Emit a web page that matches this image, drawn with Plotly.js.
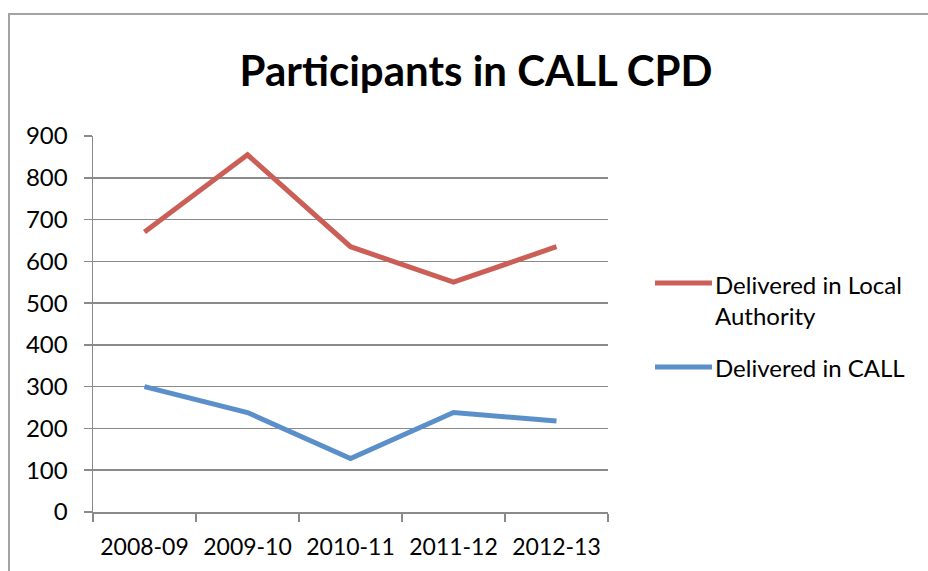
<!DOCTYPE html>
<html>
<head>
<meta charset="utf-8">
<script src="https://cdn.plot.ly/plotly-3.0.1.min.js"></script>
<style>
  html, body { margin: 0; padding: 0; width: 928px; height: 571px; overflow: hidden; background: #fff; }
  #frame { position: absolute; left: 8px; top: 13px; width: 1100px; height: 800px;
           border: 2px solid #a3a3a3; box-sizing: border-box; }
  #chart { position: absolute; left: 0; top: 0; width: 928px; height: 571px; }
</style>
</head>
<body>
<div id="frame"></div>
<div id="chart"></div>
<script>
// Participants per year, by where the CPD was delivered
const years = ['2008-09', '2009-10', '2010-11', '2011-12', '2012-13'];
const localAuthority = [670, 855, 635, 550, 635];
const callCentre = [300, 238, 128, 238, 218];
const seriesNames = ['Delivered in Local<br>Authority', 'Delivered in CALL'];
const seriesColors = ['#CB5F57', '#5B8FCA'];
const yTicks = [0, 100, 200, 300, 400, 500, 600, 700, 800, 900];

const font = 'Lato, "Open Sans", "DejaVu Sans", sans-serif';
const gridColor = '#8a8a8a';
const labelSize = 24;

const traces = [
  { x: years, y: localAuthority, name: seriesNames[0], type: 'scatter', mode: 'lines',
    line: { color: seriesColors[0], width: 5 }, showlegend: false },
  { x: years, y: callCentre, name: seriesNames[1], type: 'scatter', mode: 'lines',
    line: { color: seriesColors[1], width: 5 }, showlegend: false }
];

// Legend drawn as line samples plus labels to the right of the plot
const legendRows = [0.565, 0.3856];
const legendLineY = [0.609, 0.3856];
const shapes = legendLineY.map((y, i) => ({
  type: 'line', xref: 'paper', yref: 'paper',
  x0: 1.0913, x1: 1.2019, y0: y, y1: y,
  line: { color: seriesColors[i], width: 5 }
}));
const annotations = legendRows.map((y, i) => ({
  xref: 'paper', yref: 'paper', x: 1.203, y: y,
  xanchor: 'left', yanchor: 'middle', align: 'left',
  text: seriesNames[i], showarrow: false,
  font: { family: font, size: labelSize, color: '#000' }
}));

const layout = {
  width: 928, height: 571,
  margin: { l: 93, r: 320, t: 136, b: 59 },
  paper_bgcolor: 'rgba(0,0,0,0)',
  plot_bgcolor: 'rgba(0,0,0,0)',
  title: {
    text: '<b>Participants in CALL CPD</b>',
    font: { family: font, size: 42, color: '#000' },
    xref: 'container', x: 0.513, xanchor: 'center',
    yref: 'container', y: 0.875, yanchor: 'middle'
  },
  xaxis: {
    type: 'category', range: [-0.5, 4.5],
    tickson: 'boundaries', ticks: 'outside', ticklen: 8, tickwidth: 1.5, tickcolor: gridColor,
    showgrid: false, showline: true, linecolor: gridColor, linewidth: 1.5,
    ticklabelstandoff: 14,
    tickfont: { family: font, size: 23, color: '#000' },
    fixedrange: true
  },
  yaxis: {
    range: [0, 900], tickvals: yTicks, ticktext: yTicks.map(String),
    ticks: 'outside', ticklen: 8, tickwidth: 1.5, tickcolor: gridColor,
    showgrid: true, gridcolor: gridColor, gridwidth: 1.5,
    showline: true, linecolor: gridColor, linewidth: 1.5,
    zeroline: false, ticklabelstandoff: 11,
    tickfont: { family: font, size: labelSize, color: '#000' },
    fixedrange: true
  },
  shapes: shapes,
  annotations: annotations,
  showlegend: false
};

Plotly.newPlot('chart', traces, layout, { displayModeBar: false, staticPlot: true });
</script>
</body>
</html>
